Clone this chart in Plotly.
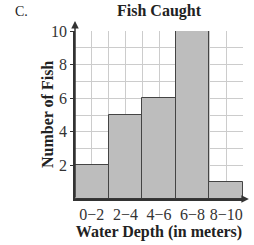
import plotly.graph_objects as go

categories = ["0−2", "2−4", "4−6", "6−8", "8−10"]
centers = [1, 3, 5, 7, 9]
counts = [2, 5, 6, 10, 1]
y_ticks = [2, 4, 6, 8, 10]

font = "Liberation Serif"
tick_font = dict(size=16, family=font, color="#333333")
title_font = dict(size=16, family=font, color="#222222")

fig = go.Figure(go.Bar(
    x=centers, y=counts, width=[2] * len(centers),
    marker=dict(color="#bdbdbd", line=dict(color="#444444", width=1)),
))

fig.update_layout(
    width=254, height=245,
    margin=dict(l=75, r=11, t=31, b=46),
    paper_bgcolor="white", plot_bgcolor="white",
    showlegend=False,
    font=dict(family=font, color="#222222", size=16),
    bargap=0,
    annotations=[
        dict(text="<b>Fish Caught</b>", xref="paper", yref="paper", x=0.5, y=1.0,
             xanchor="center", yanchor="middle", yshift=20, showarrow=False,
             font=dict(size=16, family=font, color="#222")),
        dict(text="C.", xref="paper", yref="paper", x=-0.32, y=1.0,
             xanchor="center", yanchor="middle", yshift=20, showarrow=False,
             font=dict(size=14, family=font, color="#222")),
        dict(text="<b>Number of Fish</b>", xref="paper", yref="paper", x=0, y=0.5,
             xanchor="center", yanchor="middle", xshift=-28, textangle=-90, showarrow=False,
             font=title_font),
        dict(x=0, y=1.06, ax=0, ay=0, xref="x domain", yref="y domain",
             axref="x domain", ayref="y domain", text="",
             showarrow=True, arrowhead=2, arrowsize=1, arrowwidth=1.5, arrowcolor="#333"),
        dict(x=1.035, y=0, ax=0, ay=0, xref="x domain", yref="y domain",
             axref="x domain", ayref="y domain", text="",
             showarrow=True, arrowhead=2, arrowsize=1, arrowwidth=1.5, arrowcolor="#333"),
    ],
)

fig.update_xaxes(
    range=[0, 10], tickvals=centers, ticktext=categories,
    showgrid=True, gridcolor="#cccccc", gridwidth=1,
    minor=dict(dtick=1, tick0=0, showgrid=True, gridcolor="#cccccc", gridwidth=1),
    showline=True, linecolor="#333333", linewidth=1.5, zeroline=False, ticks="",
    tickfont=tick_font, automargin=False,
    title=dict(text="<b>Water Depth (in meters)</b>", font=title_font, standoff=2),
)
fig.update_yaxes(
    range=[0, 10], tickvals=y_ticks,
    showgrid=True, gridcolor="#cccccc", gridwidth=1,
    minor=dict(dtick=1, tick0=0, showgrid=True, gridcolor="#cccccc", gridwidth=1),
    showline=True, linecolor="#333333", linewidth=1.5, zeroline=False,
    ticks="outside", ticklen=3, tickcolor="#333",
    tickfont=tick_font, automargin=False,
)

fig.write_html("out.html", config={"displayModeBar": False},
               post_script="document.body.style.margin='0';")
